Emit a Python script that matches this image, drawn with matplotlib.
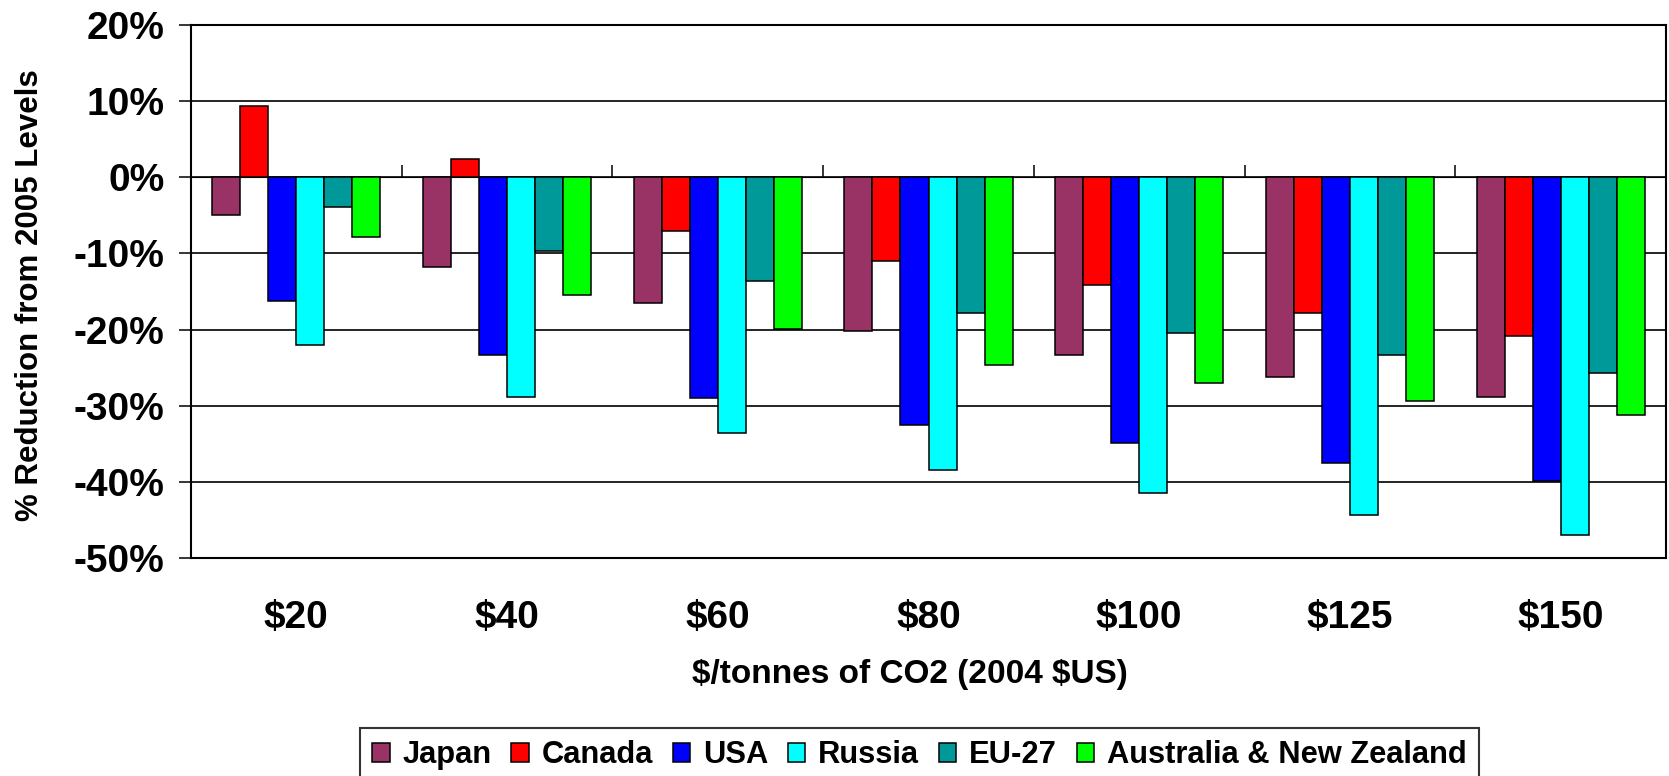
import numpy as np
import matplotlib
matplotlib.use("Agg")
import matplotlib.pyplot as plt
from matplotlib.ticker import FuncFormatter, FixedLocator

plt.rcParams['font.family'] = ['Liberation Sans', 'DejaVu Sans']
plt.rcParams['font.weight'] = 'bold'

# Carbon price scenarios ($/tonne CO2, 2004 $US)
prices = ["$20", "$40", "$60", "$80", "$100", "$125", "$150"]

# % change in emissions relative to 2005 levels
japan = [-5.0, -11.8, -16.5, -20.2, -23.3, -26.2, -28.8]
canada = [9.4, 2.4, -7.0, -11.0, -14.1, -17.8, -20.9]
usa = [-16.2, -23.4, -29.0, -32.5, -34.9, -37.5, -39.9]
russia = [-22.0, -28.8, -33.6, -38.5, -41.5, -44.3, -47.0]
eu27 = [-3.9, -9.7, -13.6, -17.8, -20.4, -23.3, -25.7]
anz = [-7.9, -15.5, -19.9, -24.6, -27.0, -29.4, -31.2]

regions = ["Japan", "Canada", "USA", "Russia", "EU-27", "Australia & New Zealand"]
series = [japan, canada, usa, russia, eu27, anz]
colors = ["#993366", "#FF0000", "#0000FF", "#00FFFF", "#009999", "#00FF00"]

ymin, ymax = -50, 20

fig = plt.figure(figsize=(16.69, 7.76), dpi=100)
ax = fig.add_axes([191 / 1669, 1 - 558 / 776, (1666 - 191) / 1669, (558 - 25) / 776])

x = np.arange(len(prices))
n = len(series)
w = 0.133
for k, (vals, col, name) in enumerate(zip(series, colors, regions)):
    ax.bar(x + (k - (n - 1) / 2) * w, vals, width=w, color=col,
           edgecolor="black", linewidth=1.1, label=name, zorder=3)

ax.set_xlim(-0.5, len(prices) - 0.5)
ax.set_ylim(ymin, ymax)
ax.yaxis.set_major_locator(FixedLocator(np.arange(ymin, ymax + 1, 10)))
ax.yaxis.set_major_formatter(FuncFormatter(lambda v, p: f"{v:.0f}%"))
ax.yaxis.grid(True, color="black", linewidth=1.2, zorder=0)
ax.set_axisbelow(True)

ax.set_xticks(x)
ax.set_xticklabels(prices)
ax.tick_params(axis="x", length=0, pad=30, labelsize=28)
ax.tick_params(axis="y", direction="out", length=8.6, width=1.1, pad=10.5,
               labelsize=28)
for lab in ax.get_xticklabels() + ax.get_yticklabels():
    lab.set_fontweight("bold")

for sp in ax.spines.values():
    sp.set_color("black")
    sp.set_linewidth(1.5)

# category divider ticks hanging from the zero line
zero_pos = (0 - ymin) / (ymax - ymin)
sec = ax.secondary_xaxis(zero_pos)
sec.set_xticks(np.arange(-0.5, len(prices), 1.0))
sec.set_xticklabels([])
sec.tick_params(axis="x", direction="out", length=8.6, width=1.1)
sec.spines["bottom"].set_linewidth(1.2)

fig.text(30 / 1669, 1 - 295 / 776, "% Reduction from 2005 Levels",
         rotation=90, ha="center", va="center", fontsize=22.5, fontweight="bold")
fig.text(910 / 1669, 1 - 674 / 776, "$/tonnes of CO2 (2004 $US)",
         ha="center", va="center", fontsize=24, fontweight="bold",
         parse_math=False)

leg = fig.legend(loc="upper left", bbox_to_anchor=(360 / 1669, 1 - 728 / 776),
                 ncol=6, fontsize=22.2, frameon=True, fancybox=False,
                 handlelength=0.56, handleheight=0.56, handletextpad=0.41,
                 columnspacing=0.65, borderpad=0.4, borderaxespad=0)
leg.get_frame().set_edgecolor("black")
leg.get_frame().set_linewidth(1.5)
for t in leg.get_texts():
    t.set_fontweight("bold")

fig.savefig("out.png", dpi=100)
